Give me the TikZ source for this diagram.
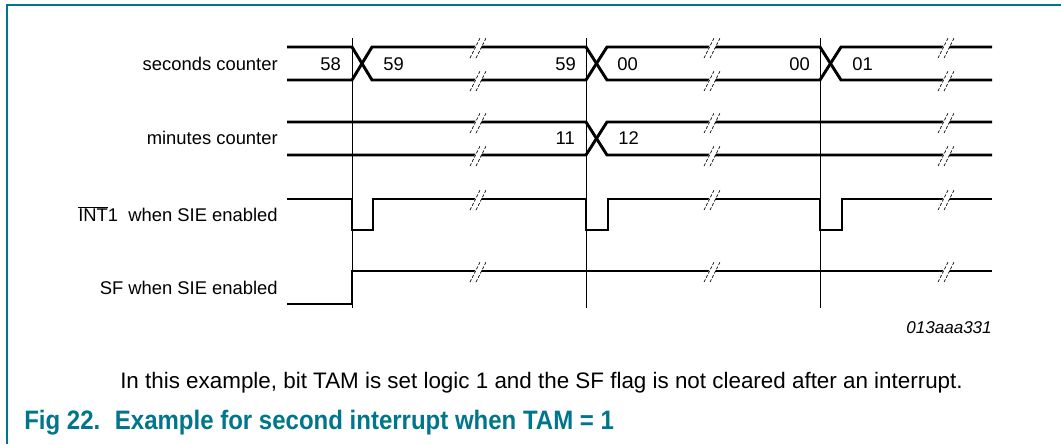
\documentclass[tikz,border=0pt]{standalone}
\usepackage{fontspec}
\setmainfont{Liberation Sans}
\newfontfamily\capfont[FakeStretch=0.9]{Liberation Sans}
\usetikzlibrary{positioning}
\definecolor{figteal}{RGB}{0,118,140}
\tikzset{
	sig/.style={line width=2.2pt, line join=miter},% signal traces
	tmark/.style={line width=0.7pt},% vertical time markers
	lbl/.style={anchor=east, inner sep=0pt, font=\fontsize{13.8}{16}\selectfont},
	val/.style={inner sep=0pt, font=\fontsize{13.8}{16}\selectfont},
	brkline/.style={line width=0.5pt, dash pattern=on 2.2pt off 1.4pt}
}
\begin{document}
\begin{tikzpicture}[x=0.75pt, y=-0.75pt]
	\useasboundingbox (0,0) rectangle (1061,444);
	% frame
	\draw[figteal, line width=1.5pt] (7,444) -- (7,5) -- (1061,5);
	% time markers
	\foreach \tx in {352,586,820}
		\draw[tmark] (\tx,38) -- (\tx,308);
	% row labels
	\node[lbl] (seclbl) at (278,64) {seconds counter};
	\node[lbl] (minlbl) at (278,138) {minutes counter};
	\node[lbl] (intlbl) at (278,214) {$\overline{\hbox{INT}}$1\ \ when SIE enabled};
	\node[lbl] (sflbl) at (278,288) {SF when SIE enabled};
	% seconds counter
	\draw[sig] (287,47) -- (352,47) -- (372,80) -- (586,80) -- (607,47) -- (820,47) -- (841,80) -- (992,80);
	\draw[sig] (287,80) -- (352,80) -- (372,47) -- (586,47) -- (607,80) -- (820,80) -- (841,47) -- (992,47);
	% minutes counter
	\draw[sig] (287,122) -- (586,122) -- (607,155) -- (992,155);
	\draw[sig] (287,155) -- (586,155) -- (607,122) -- (992,122);
	% INT1
	\draw[sig] (287,199) -| (352,230) -| (373,199) -| (586,230) -| (608,199) -| (820,230) -| (842,199) -- (992,199);
	% SF
	\draw[sig] (287,304) -| (352,271) -- (992,271);
	% breaks
	\foreach \bx in {478,712,946}
		\foreach \by in {47,80,122,155,199,271} {
			\fill[white] (\bx-4.5,\by+2.5) -- (\bx-2,\by-2.5) -- (\bx+4.5,\by-2.5) -- (\bx+2,\by+2.5) -- cycle;
			\draw[brkline] (\bx-8,\by+11) -- (\bx+2,\by-9);
			\draw[brkline] (\bx-2,\by+11) -- (\bx+8,\by-9);
		}
	% counter values
	\node[val, anchor=east] (s58) at (341,64) {58};
	\node[val, anchor=west] (s59a) at (383,64) {59};
	\node[val, anchor=east] (s59b) at (576,64) {59};
	\node[val, anchor=west] (s00a) at (617,64) {00};
	\node[val, anchor=east] (s00b) at (810,64) {00};
	\node[val, anchor=west] (s01) at (852,64) {01};
	\node[val, anchor=east] (m11) at (575,138) {11};
	\node[val, anchor=west] (m12) at (618,138) {12};
	% id and captions
	\node[anchor=east, inner sep=0pt, font=\fontsize{12.8}{15}\selectfont\itshape] (figid) at (992,328) {013aaa331};
	\node[anchor=west, inner sep=0pt, font=\fontsize{16.8}{19}\selectfont] (note) at (120,383) {In this example, bit TAM is set logic 1 and the SF flag is not cleared after an interrupt.};
	\node[anchor=west, inner sep=0pt, text=figteal, font=\capfont\fontsize{20}{23}\selectfont\bfseries] (figcap) at (24,423) {Fig 22.\hspace{11pt}Example for second interrupt when TAM = 1};
\end{tikzpicture}
\end{document}
